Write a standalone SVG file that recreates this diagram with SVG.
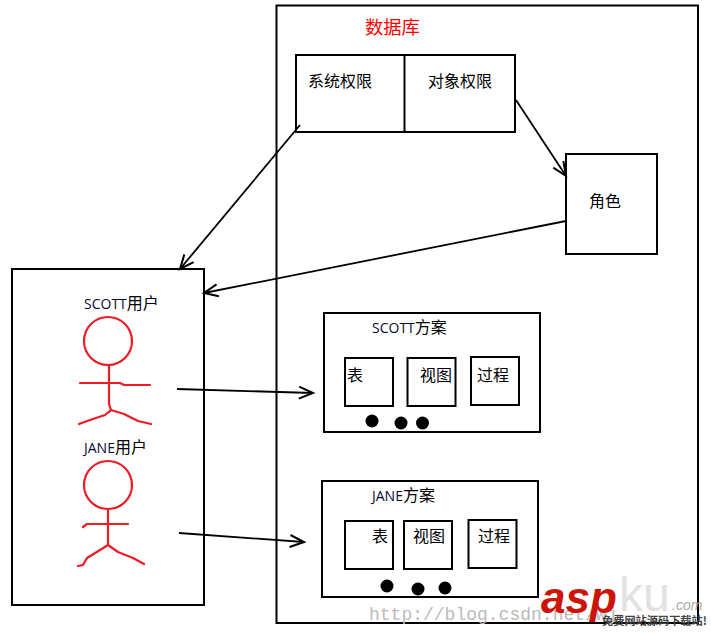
<svg xmlns="http://www.w3.org/2000/svg" width="711" height="633" viewBox="0 0 711 633">
<defs>
<marker id="a" markerUnits="userSpaceOnUse" markerWidth="20" markerHeight="20" refX="15" refY="10" orient="auto"><path d="M1 4L15 10L1 16" fill="none" stroke="#000" stroke-width="2"/></marker>
</defs>
<style>
.b{fill:#fff;stroke:#000;stroke-width:2}
.t{font-family:"Noto Sans CJK SC","Noto Sans",sans-serif;font-size:16px;fill:#000}
.l{font-family:"Open Sans",sans-serif;font-size:14px;fill:#0a0a2a}
.r{fill:none;stroke:#ed1c24;stroke-width:2.2;stroke-linejoin:round;stroke-linecap:round}
.d{fill:#000}
.c{fill:none;stroke:#000;stroke-width:1.8;marker-end:url(#a)}
</style>
<rect width="711" height="633" fill="#fff"/>
<g id="database"><rect class="b" x="276.500" y="5.500" width="421.500" height="617.500"/><text x="365" y="34" font-family="Noto Sans CJK SC,sans-serif" font-size="18.300" fill="#f00">数据库</text></g>
<g id="privileges"><rect class="b" x="296" y="55" width="219" height="77"/><line x1="404.500" y1="54" x2="404.500" y2="133" stroke="#000" stroke-width="2"/><text class="t" x="308" y="87">系统权限</text><text class="t" x="428" y="87">对象权限</text></g>
<g id="role"><rect class="b" x="566" y="154" width="91" height="100"/><text class="t" x="589" y="207">角色</text></g>
<g id="users"><rect class="b" x="12" y="269" width="192" height="336"/></g>
<g id="scott-user">
<text class="t" x="84" y="309"><tspan class="l">SCOTT</tspan>用户</text>
<circle class="r" cx="108" cy="341" r="24"/>
<path class="r" d="M109 365V404L111 410L109 412M80 383H120L124 385H150M79 424L90 420L105 415L111 410L124 414L138 421L151 424"/>
</g>
<g id="jane-user">
<text class="t" x="84" y="453"><tspan class="l">JANE</tspan>用户</text>
<circle class="r" cx="108" cy="485" r="24"/>
<path class="r" d="M108 509V545M83 527L87 524H128M78 566L83 565L87 558L100 550L108 545L118 552L133 558L144 564"/>
</g>
<g id="scott-schema">
<rect class="b" x="324" y="313" width="216" height="119"/>
<text class="t" x="372" y="333"><tspan class="l">SCOTT</tspan>方案</text>
<rect class="b" x="345" y="358" width="48" height="48"/><text class="t" x="347" y="381">表</text>
<rect class="b" x="407.500" y="358" width="48" height="48"/><text class="t" x="420" y="381">视图</text>
<rect class="b" x="471" y="357" width="48" height="48"/><text class="t" x="477" y="381">过程</text>
<circle class="d" cx="372" cy="421" r="6.500"/><circle class="d" cx="401" cy="423" r="6.500"/><circle class="d" cx="422.500" cy="423" r="6.500"/>
</g>
<g id="jane-schema">
<rect class="b" x="322" y="481" width="216" height="116"/>
<text class="t" x="372" y="501"><tspan class="l">JANE</tspan>方案</text>
<rect class="b" x="345" y="521" width="48" height="48"/><text class="t" x="372" y="542">表</text>
<rect class="b" x="404" y="521" width="48" height="48"/><text class="t" x="413" y="542">视图</text>
<rect class="b" x="468.500" y="520" width="48" height="48"/><text class="t" x="478" y="542">过程</text>
<circle class="d" cx="387" cy="586" r="6.500"/><circle class="d" cx="418" cy="589" r="6.500"/><circle class="d" cx="445" cy="588" r="6.500"/>
</g>
<g id="connectors">
<line class="c" x1="300" y1="125" x2="180" y2="269"/>
<line class="c" x1="516" y1="100" x2="566" y2="176"/>
<line class="c" x1="566" y1="221" x2="204" y2="293"/>
<line class="c" x1="177" y1="389" x2="313" y2="393"/>
<line class="c" x1="179" y1="533" x2="304" y2="542"/>
</g>
<g id="watermark">
<text x="369" y="620" font-family="Liberation Mono,monospace" font-size="18" fill="#bbb">http://blog.csdn.net/wj</text>
<text x="541" y="613" font-family="Liberation Sans,sans-serif" font-size="44" font-weight="700" font-style="italic" fill="#cc1408">asp</text>
<text x="619" y="611" font-family="Liberation Sans,sans-serif" font-size="48" fill="#e2e2e2">ku</text>
<text x="672" y="610" font-family="Liberation Sans,sans-serif" font-size="14" font-style="italic" fill="#aaa">.com</text>
<text x="602" y="625" font-family="Noto Sans CJK SC,sans-serif" font-size="11.200" font-weight="700" fill="#444">免费网站源码下载站!</text>
</g>
</svg>
